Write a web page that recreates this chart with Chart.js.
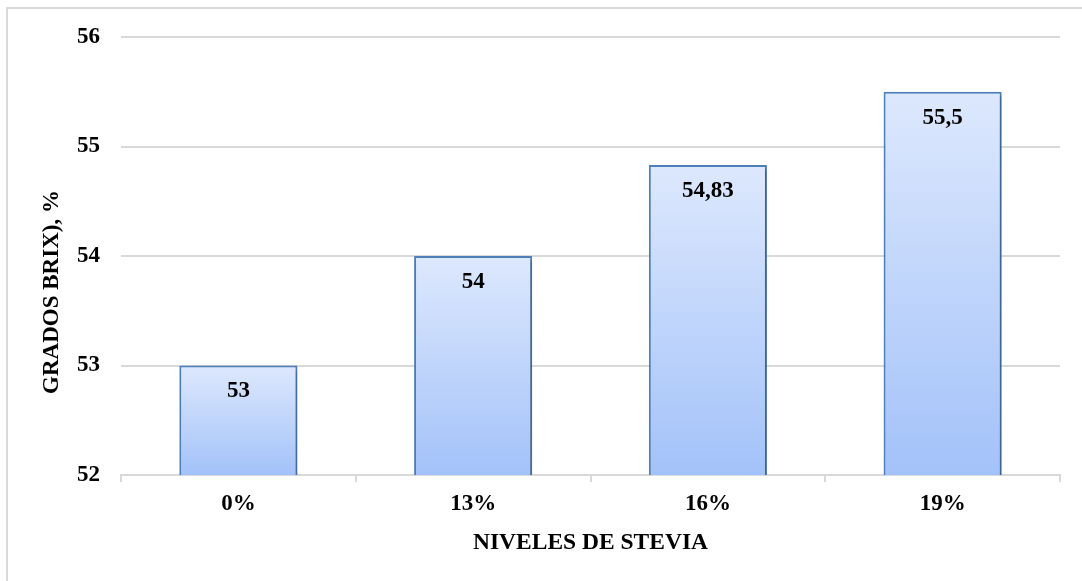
<!DOCTYPE html>
<html>
<head>
<meta charset="utf-8">
<script src="https://cdn.jsdelivr.net/npm/chart.js@4/dist/chart.umd.min.js"></script>
<style>
  html, body { margin: 0; padding: 0; background: #fff; overflow: hidden; }
  #frame { position: absolute; left: 6px; top: 7px; width: 1200px; height: 700px; border: 2px solid #d9d9d9; }
  #wrap { position: absolute; left: 0; top: 0; width: 1082px; height: 581px; }
</style>
</head>
<body>
<div id="frame"></div>
<div id="wrap"><canvas id="grafico"></canvas></div>
<script>
const niveles = ['0%', '13%', '16%', '19%'];
const brix = [53, 54, 54.83, 55.5];
const etiquetas = ['53', '54', '54,83', '55,5'];
const ejeY = [52, 53, 54, 55, 56];
const tituloY = 'GRADOS BRIX), %';

const fuente = 'Liberation Serif, Times New Roman, serif';

function degradado(context) {
  const chart = context.chart;
  const y = chart.scales.y;
  if (!y || !chart.chartArea || context.dataIndex === undefined) return '#bcd2fb';
  const top = y.getPixelForValue(brix[context.dataIndex]);
  const base = y.getPixelForValue(ejeY[0]);
  if (!isFinite(top) || !isFinite(base)) return '#bcd2fb';
  const g = chart.ctx.createLinearGradient(0, top, 0, base);
  g.addColorStop(0, '#dde8fd');
  g.addColorStop(1, '#a3c2f9');
  return g;
}

const sombra = {
  id: 'sombra',
  beforeDatasetsDraw(chart) {
    const ctx = chart.ctx;
    ctx.save();
    ctx.shadowColor = 'rgba(0,0,0,0.28)';
    ctx.shadowBlur = 4;
    ctx.shadowOffsetX = 2;
    ctx.shadowOffsetY = 2;
  },
  afterDatasetsDraw(chart) {
    chart.ctx.restore();
  }
};

const valores = {
  id: 'valores',
  afterDatasetsDraw(chart) {
    const ctx = chart.ctx;
    const meta = chart.getDatasetMeta(0);
    ctx.save();
    ctx.font = 'bold 23px ' + fuente;
    ctx.fillStyle = '#000';
    ctx.textAlign = 'center';
    ctx.textBaseline = 'middle';
    meta.data.forEach((bar, i) => {
      ctx.fillText(etiquetas[i], bar.x, bar.y + 26);
    });
    ctx.restore();
  }
};

// y-axis title sits lower than the plot centre in the original
const tituloEjeY = {
  id: 'tituloEjeY',
  afterDraw(chart) {
    const ctx = chart.ctx;
    const area = chart.chartArea;
    ctx.save();
    ctx.translate(52, (area.top + area.bottom) / 2 + 36);
    ctx.rotate(-Math.PI / 2);
    ctx.font = 'bold 23px ' + fuente;
    ctx.fillStyle = '#000';
    ctx.textAlign = 'center';
    ctx.textBaseline = 'middle';
    ctx.fillText(tituloY, 0, 0);
    ctx.restore();
  }
};

new Chart(document.getElementById('grafico'), {
  type: 'bar',
  data: {
    labels: niveles,
    datasets: [{
      data: brix,
      backgroundColor: degradado,
      borderColor: '#4f81bd',
      borderWidth: 2,
      borderSkipped: 'bottom',
      categoryPercentage: 1,
      barPercentage: 0.503
    }]
  },
  options: {
    responsive: true,
    maintainAspectRatio: false,
    animation: false,
    layout: { padding: { left: 0, right: 22, top: 37, bottom: 0 } },
    plugins: {
      legend: { display: false },
      tooltip: { enabled: false }
    },
    scales: {
      x: {
        grid: {
          offset: true,
          drawOnChartArea: false,
          drawTicks: true,
          tickLength: 7,
          color: '#d9d9d9',
          lineWidth: 2
        },
        border: { color: '#d9d9d9', width: 2 },
        ticks: {
          color: '#000',
          padding: 8,
          font: { family: fuente, size: 23, weight: 'bold' }
        },
        title: {
          display: true,
          text: 'NIVELES DE STEVIA',
          color: '#000',
          padding: { top: 0, bottom: 24 },
          font: { family: fuente, size: 23.5, weight: 'bold' }
        },
        afterFit(scale) { scale.height = 106; }
      },
      y: {
        min: 52,
        max: 56,
        afterBuildTicks(scale) { scale.ticks = ejeY.map(v => ({ value: v })); },
        grid: {
          drawTicks: false,
          color: '#d9d9d9',
          lineWidth: 2
        },
        border: { display: false },
        ticks: {
          color: '#000',
          padding: 21,
          font: { family: fuente, size: 23, weight: 'bold' }
        },
        afterFit(scale) { scale.width = 121; }
      }
    }
  },
  plugins: [sombra, valores, tituloEjeY]
});
</script>
</body>
</html>
